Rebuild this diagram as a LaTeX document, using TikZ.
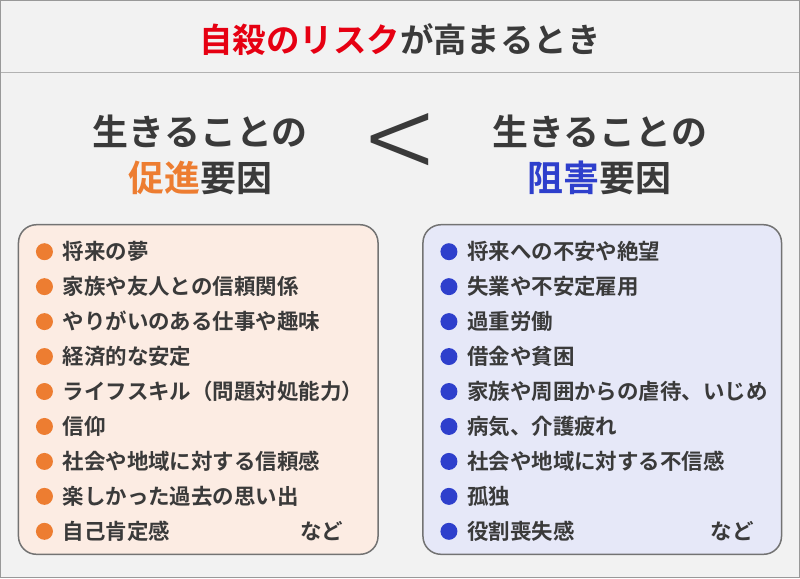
\documentclass[tikz,border=0pt]{standalone}
\usepackage{fontspec}
\setmainfont{Noto Sans CJK JP}
\newfontfamily\jpbold{Noto Sans CJK JP Bold}
\newfontfamily\jplight{Noto Sans CJK JP Light}
\definecolor{bgray}{HTML}{F2F2F2}
\definecolor{txt}{HTML}{3A3A3A}
\definecolor{ttlred}{HTML}{E60012}
\definecolor{orng}{HTML}{ED7D31}
\definecolor{blu}{HTML}{2E3FCC}
\definecolor{peach}{HTML}{FCECE3}
\definecolor{lav}{HTML}{E6E8F8}
\begin{document}
\begin{tikzpicture}[x=1pt, y=-1pt,
  heading/.style={font=\jpbold\fontsize{36}{46}\selectfont, text=txt, align=center},
  listbox/.style={draw=black!55, line width=1.5pt, rounded corners=18pt},
  item/.style={anchor=west, font=\jpbold\fontsize{21.5}{24}\selectfont, text=txt, inner sep=0pt}]

  % background and title
  \fill[bgray] (0,0) rectangle (800,579);
  \draw[black!30, line width=1pt] (0,73) -- (800,73);
  \draw[black!40, line width=1pt] (0.5,0.5) rectangle (799.5,578.5);
  \node[font=\jpbold\fontsize{33.5}{40}\selectfont, text=txt] (title) at (400,40)
    {\textcolor{ttlred}{自殺のリスク}が高まるとき};

  % headings
  \node[heading] (left) at (200,155) {生きることの\\\textcolor{orng}{促進}要因};
  \node[heading] (right) at (600,155) {生きることの\\\textcolor{blu}{阻害}要因};
  \node[font=\jplight\fontsize{125}{125}\selectfont, text=txt] (lt) at (400,150) {<};

  % boxes
  \draw[listbox, fill=peach] (18,225) rectangle (378,555);
  \draw[listbox, fill=lav] (423,225) rectangle (782,555);

  % left list
  \foreach \t [count=\i] in {将来の夢, 家族や友人との信頼関係, やりがいのある仕事や趣味,
      経済的な安定, ライフスキル（問題対処能力）, 信仰, 社会や地域に対する信頼感,
      楽しかった過去の思い出, 自己肯定感} {
    \fill[orng] (44,{252+35*(\i-1)}) circle (8.5);
    \node[item] (l\i) at (62,{252+35*(\i-1)}) {\t};
  }
  \node[item] (letc) at (300,532) {など};

  % right list
  \foreach \t [count=\i] in {将来への不安や絶望, 失業や不安定雇用, 過重労働, 借金や貧困,
      家族や周囲からの虐待、いじめ, 病気、介護疲れ, 社会や地域に対する不信感,
      孤独, 役割喪失感} {
    \fill[blu] (449,{252+35*(\i-1)}) circle (8.5);
    \node[item] (r\i) at (467,{252+35*(\i-1)}) {\t};
  }
  \node[item] (retc) at (711,532) {など};
\end{tikzpicture}
\end{document}
